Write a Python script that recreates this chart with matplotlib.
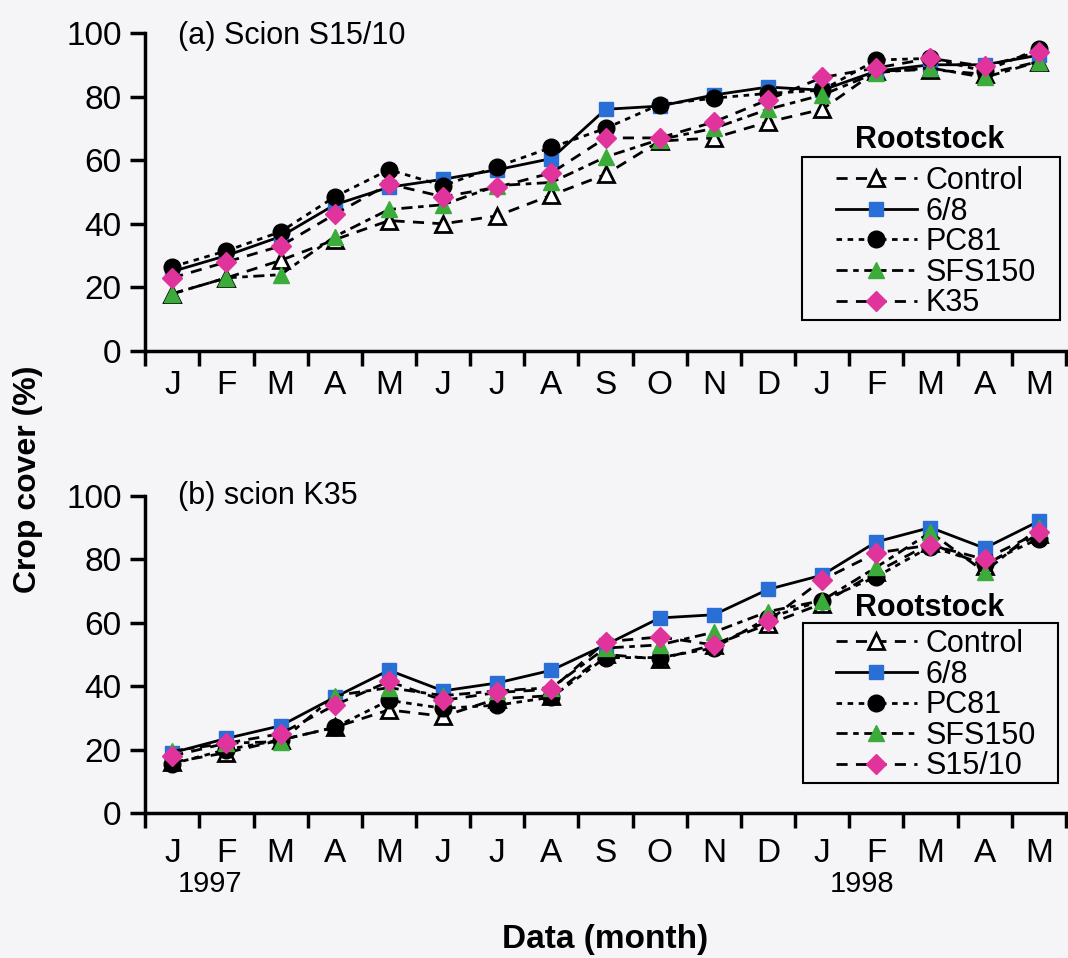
import matplotlib
matplotlib.use("Agg")
import matplotlib.pyplot as plt
from matplotlib.patches import Rectangle
import numpy as np

plt.rcParams['font.family'] = ['Liberation Sans', 'DejaVu Sans']

months = ["J", "F", "M", "A", "M", "J", "J", "A", "S", "O", "N", "D", "J", "F", "M", "A", "M"]

# (a) scion S15/10
a_control = [18, 23, 28.5, 35, 41, 40, 42.5, 49, 55.5, 66, 67, 72, 76, 88, 88.5, 87, 91]
a_68      = [25, 30, 36, 46, 51.5, 54, 57, 60.5, 76, 77, 80.5, 83, 82, 88, 90, 90, 93]
a_pc81    = [26.5, 31.5, 37.5, 48.5, 57, 52, 58, 64, 70, 77.5, 79.5, 81, 82, 91.5, 92, 88, 95]
a_sfs150  = [18, 23, 24, 36, 44.5, 46, 52, 53, 61, 66.5, 70, 76, 80.5, 87.5, 89, 86, 91]
a_k35     = [23, 28, 33, 43, 52.5, 48.5, 51.5, 56, 67, 67, 72, 79, 86, 89, 92, 89.5, 94]

# (b) scion K35
b_control = [16, 19, 23, 27, 32.5, 30.5, 36, 37, 50, 48.5, 53, 59.5, 66, 76, 85, 78, 88]
b_68      = [19, 23.5, 27.5, 36.5, 45, 38.5, 41, 45, 53, 61.5, 62.5, 70.5, 75, 85.5, 90, 83.5, 92]
b_pc81    = [15.5, 20, 23, 27, 35.5, 33, 34, 36.5, 49, 49, 52, 61.5, 67, 74.5, 84, 78.5, 86.5]
b_sfs150  = [19.5, 22, 22.5, 37, 39.5, 37, 38.5, 39.5, 52, 53, 57, 63.5, 67, 77.5, 88.5, 76, 90]
b_s1510   = [18, 22, 25, 34, 41.5, 35.5, 38, 39, 54, 55.5, 53, 60.5, 73.5, 82, 84.5, 80, 88.5]

blue = '#2a6fd6'
green = '#3bab3a'
pink = '#e0339c'
bg = '#f5f5f8'

x = np.arange(len(months))


def draw(ax, series, labels, title, box, leg_xy, title_y, rs_y, lab_pad):
    c, s68, pc, sfs, last = series
    lw = 2.0
    ax.plot(x, c, color='black', lw=lw, ls=(0, (4, 3)), marker='^', ms=12,
            mfc='white', mec='black', mew=2, label=labels[0], zorder=3)
    ax.plot(x, s68, color='black', lw=lw, ls='-', marker='s', ms=10,
            mfc=blue, mec=blue, label=labels[1], zorder=4)
    ax.plot(x, pc, color='black', lw=lw, ls=(0, (2, 2)), marker='o', ms=12,
            mfc='black', mec='black', label=labels[2], zorder=5)
    ax.plot(x, sfs, color='black', lw=lw, ls=(0, (4, 2, 2, 2)), marker='^', ms=12,
            mfc=green, mec=green, label=labels[3], zorder=6)
    ax.plot(x, last, color='black', lw=lw, ls=(0, (4, 3)), marker='D', ms=10,
            mfc=pink, mec=pink, label=labels[4], zorder=7)

    ax.set_xlim(-0.5, len(months) - 0.5)
    ax.set_ylim(0, 100)
    ax.set_yticks([0, 20, 40, 60, 80, 100])
    ax.set_xticks(np.arange(-0.5, len(months)), minor=False)
    ax.set_xticklabels([])
    ax.set_xticks(x, minor=True)
    ax.set_xticklabels(months, minor=True)
    ax.tick_params(axis='x', which='major', direction='out', length=11, width=2.5)
    ax.tick_params(axis='x', which='minor', length=0, pad=lab_pad, labelsize=24)
    ax.tick_params(axis='y', direction='out', length=11, width=2.5, labelsize=24, pad=6)
    for sp in ['top', 'right']:
        ax.spines[sp].set_visible(False)
    for sp in ['left', 'bottom']:
        ax.spines[sp].set_linewidth(2.5)
    ax.set_facecolor(bg)
    ax.text(0.036, title_y, title, transform=ax.transAxes, fontsize=22,
            va='center', ha='left')

    # legend frame drawn separately, title sits above it
    x0, y0, x1, y1 = box
    ax.add_patch(Rectangle((x0, y0), x1 - x0, y1 - y0, transform=ax.transAxes,
                           facecolor=bg, edgecolor='black', lw=1.5, zorder=8))
    leg = ax.legend(loc='upper left', bbox_to_anchor=leg_xy, fontsize=22,
                    frameon=False, handlelength=2.65, handletextpad=0.3,
                    labelspacing=0.02, borderpad=0, borderaxespad=0)
    leg.set_zorder(9)
    ax.text(0.852, rs_y, "Rootstock", transform=ax.transAxes,
            fontsize=22, fontweight='bold', ha='center', va='center')


fig = plt.figure(figsize=(10.68, 9.58), dpi=100)
fig.patch.set_facecolor(bg)
ax1 = fig.add_axes([0.136, 0.6336, 0.862, 0.332])
ax2 = fig.add_axes([0.136, 0.1514, 0.862, 0.331])

draw(ax1, [a_control, a_68, a_pc81, a_sfs150, a_k35],
     ["Control", "6/8", "PC81", "SFS150", "K35"], "(a) Scion S15/10",
     (0.713, 0.0975, 0.9935, 0.61), (0.75, 0.582), 0.99, 0.663, 13.5)
draw(ax2, [b_control, b_68, b_pc81, b_sfs150, b_s1510],
     ["Control", "6/8", "PC81", "SFS150", "S15/10"], "(b) scion K35",
     (0.715, 0.095, 0.991, 0.599), (0.75, 0.58), 1.0, 0.647, 18)

fig.text(0.026, 0.5, "Crop cover (%)", rotation=90, fontsize=23, fontweight='bold',
         ha='center', va='center')
fig.text(0.567, 0.019, "Data (month)", fontsize=24, fontweight='bold',
         ha='center', va='center')
fig.text(0.197, 0.077, "1997", fontsize=21, ha='center', va='center')
fig.text(0.807, 0.077, "1998", fontsize=21, ha='center', va='center')

fig.savefig("out.png", dpi=100, facecolor=fig.get_facecolor())
